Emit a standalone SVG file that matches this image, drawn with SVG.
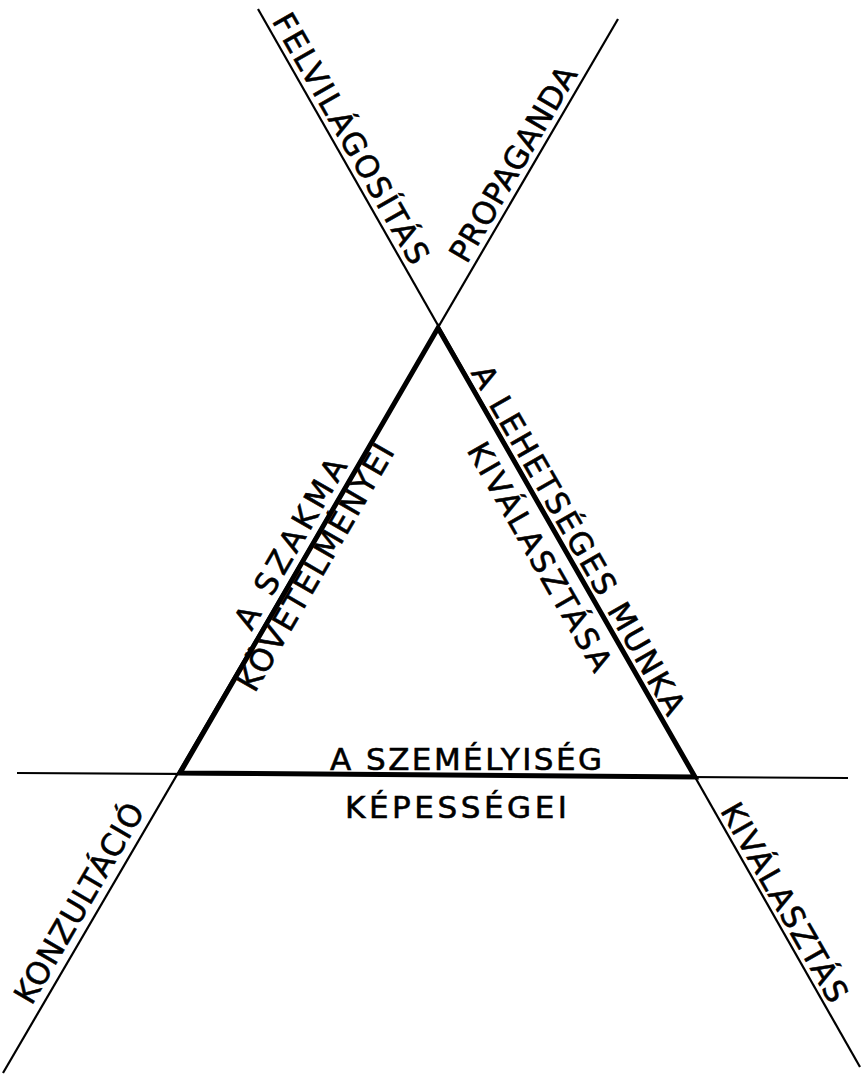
<svg xmlns="http://www.w3.org/2000/svg" width="861" height="1079" viewBox="0 0 861 1079">
<style>
.thin{stroke:#000;stroke-width:2.2;fill:none;stroke-linecap:butt}
.thick{stroke:#000;stroke-width:5;fill:none;stroke-linejoin:miter}
text{font-family:"DejaVu Sans","Liberation Sans",sans-serif;font-size:31px;fill:#000;stroke:#000;stroke-width:0.6}
</style>
<rect width="861" height="1079" fill="#fff"/>
<g id="connectors">
<line class="thin" x1="258" y1="9" x2="860" y2="1067"/>
<line class="thin" x1="618" y1="19" x2="3" y2="1073"/>
<line class="thin" x1="17" y1="773" x2="848" y2="778"/>
<polygon class="thick" points="438,328 180,773 695,777"/>
</g>
<g id="felvilagositas"><text transform="translate(266.4,23.8) rotate(60.35)" x="0" y="-6" textLength="283" lengthAdjust="spacing">FELVILÁGOSÍTÁS</text></g>
<g id="propaganda"><text transform="translate(472.8,268.4) rotate(-59.75)" x="0" y="-7" textLength="221" lengthAdjust="spacing">PROPAGANDA</text></g>
<g id="konzultacio"><text transform="translate(39.3,1010.8) rotate(-59.75)" x="0" y="-9" textLength="226" lengthAdjust="spacing">KONZULTÁCIÓ</text></g>
<g id="kivalasztas"><text transform="translate(715.4,812.9) rotate(60.35)" x="0" y="-5" textLength="224" lengthAdjust="spacing">KIVÁLASZTÁS</text></g>
<g id="szakma">
<text transform="translate(259.3,636.3) rotate(-59.9)" x="0" y="-9" textLength="192" lengthAdjust="spacing">A SZAKMA</text>
<text transform="translate(233.2,681.3) rotate(-59.9)" x="0" y="25" textLength="280" lengthAdjust="spacing">KÖVETELMÉNYEI</text>
</g>
<g id="munka">
<text transform="translate(465.3,375.7) rotate(60.22)" x="0" y="-6" textLength="397" lengthAdjust="spacing">A LEHETSÉGES MUNKA</text>
<text transform="translate(497.6,432.2) rotate(60.22)" x="0" y="36" textLength="258" lengthAdjust="spacing">KIVÁLASZTÁSA</text>
</g>
<g id="szemelyiseg">
<text x="330" y="770" textLength="272" lengthAdjust="spacing">A SZEMÉLYISÉG</text>
<text x="345" y="818" textLength="222" lengthAdjust="spacing">KÉPESSÉGEI</text>
</g>
</svg>
